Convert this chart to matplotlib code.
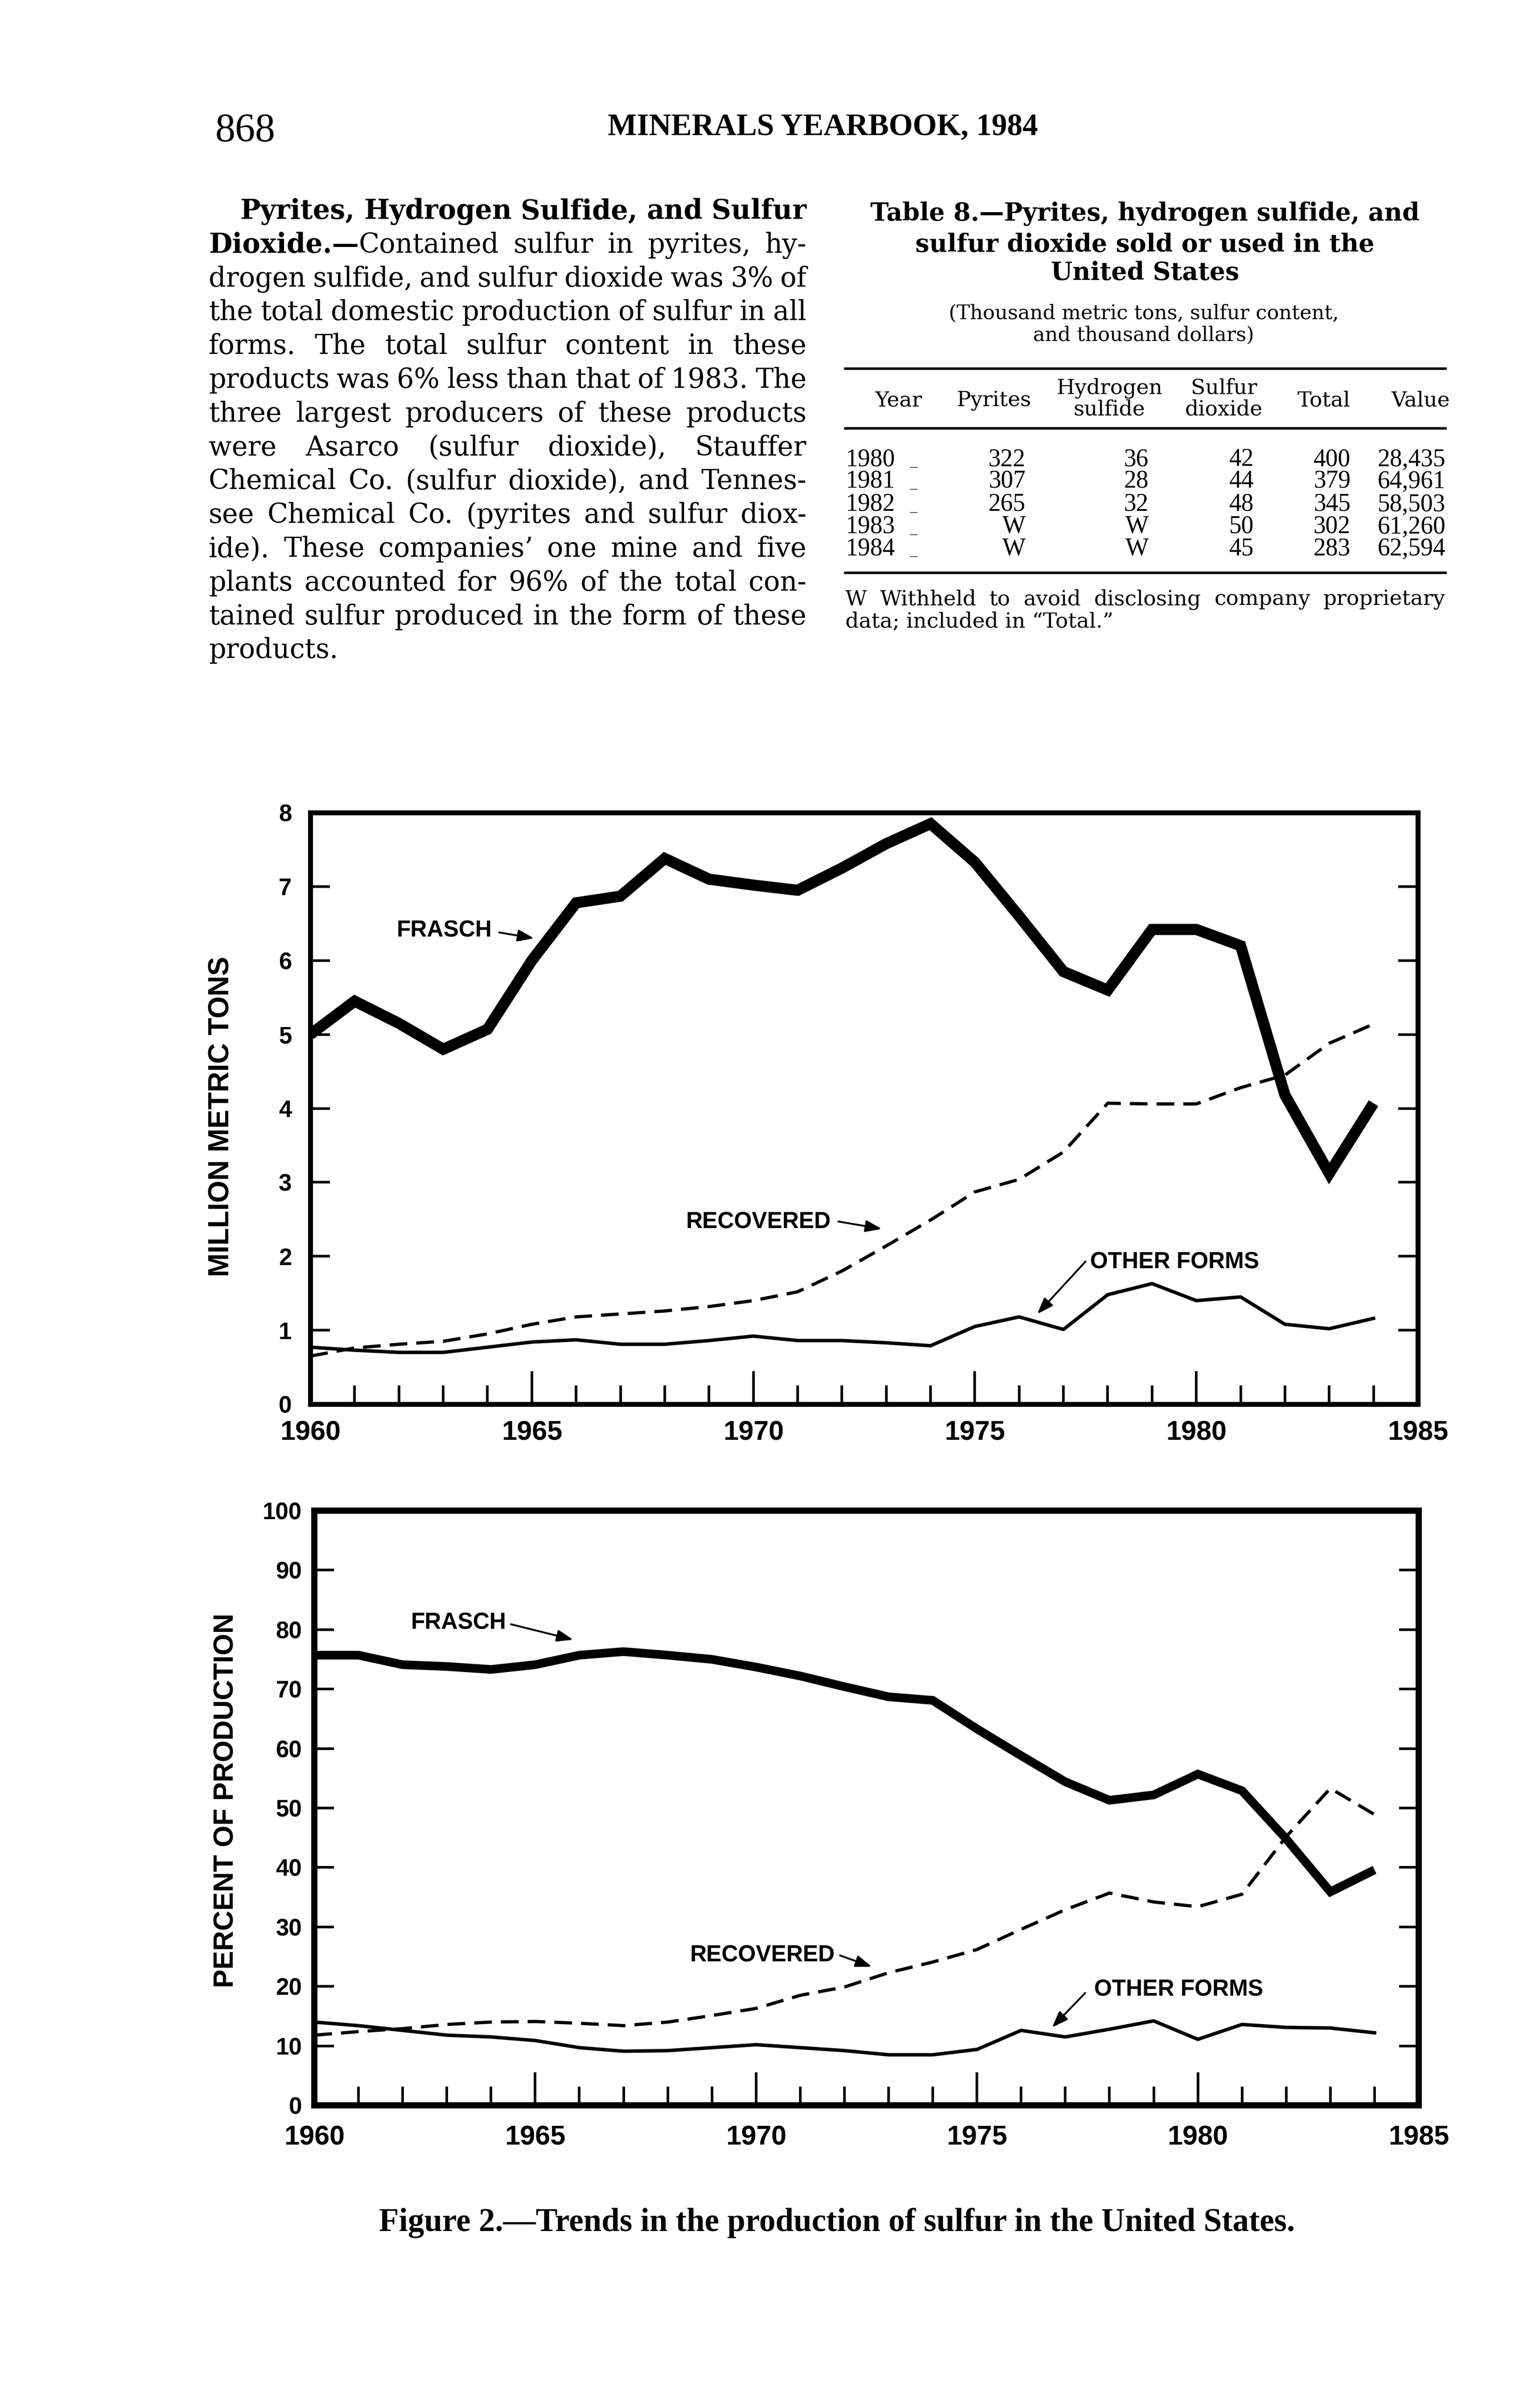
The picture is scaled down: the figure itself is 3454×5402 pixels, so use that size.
import matplotlib
matplotlib.use("Agg")
import matplotlib.pyplot as plt
from matplotlib.lines import Line2D

W, H, DPI = 3454, 5402, 100
SANS = "Liberation Sans"
SERIF = "DejaVu Serif"
NARROW = "Liberation Serif"

plt.rcParams["font.family"] = [SANS, "DejaVu Sans"]
plt.rcParams["font.weight"] = "bold"

# chart data
years = list(range(1960, 1985))
frasch_tons = [5.00, 5.45, 5.15, 4.80, 5.07, 6.00, 6.78, 6.87, 7.38, 7.10, 7.02, 6.95, 7.25,
               7.58, 7.85, 7.33, 6.60, 5.85, 5.60, 6.42, 6.42, 6.20, 4.18, 3.12, 4.07]
recovered_tons = [0.65, 0.76, 0.81, 0.85, 0.95, 1.08, 1.18, 1.22, 1.26, 1.32, 1.40, 1.52, 1.80,
                  2.14, 2.49, 2.87, 3.04, 3.41, 4.07, 4.06, 4.06, 4.28, 4.45, 4.88, 5.14]
other_tons = [0.77, 0.73, 0.70, 0.70, 0.77, 0.84, 0.87, 0.81, 0.81, 0.86, 0.92, 0.86, 0.86,
              0.83, 0.79, 1.05, 1.18, 1.01, 1.48, 1.63, 1.40, 1.45, 1.08, 1.02, 1.16]
frasch_pct = [75.7, 75.7, 74.1, 73.8, 73.3, 74.1, 75.7, 76.3, 75.7, 75.0, 73.7, 72.2, 70.4,
              68.7, 68.1, 63.3, 58.8, 54.4, 51.3, 52.2, 55.7, 52.9, 44.8, 35.9, 39.6]
recovered_pct = [11.8, 12.4, 12.9, 13.6, 14.0, 14.1, 13.8, 13.4, 14.0, 15.1, 16.3, 18.5, 19.9,
                 22.3, 24.1, 26.2, 29.6, 32.9, 35.7, 34.2, 33.4, 35.5, 45.2, 53.3, 48.9]
other_pct = [14.0, 13.4, 12.6, 11.8, 11.5, 10.9, 9.7, 9.1, 9.2, 9.7, 10.2, 9.7, 9.2,
             8.5, 8.5, 9.4, 12.6, 11.5, 12.8, 14.2, 11.1, 13.6, 13.1, 13.0, 12.2]

# table 8
table_years = ["1980", "1981", "1982", "1983", "1984"]
table_pyrites = ["322", "307", "265", "W", "W"]
table_h2s = ["36", "28", "32", "W", "W"]
table_so2 = ["42", "44", "48", "50", "45"]
table_total = ["400", "379", "345", "302", "283"]
table_value = ["28,435", "64,961", "58,503", "61,260", "62,594"]

body_lines = [
    "*Pyrites, *Hydrogen *Sulfide, *and *Sulfur",
    "*Dioxide.—|Contained sulfur in pyrites, hy-",
    "drogen sulfide, and sulfur dioxide was 3% of",
    "the total domestic production of sulfur in all",
    "forms. The total sulfur content in these",
    "products was 6% less than that of 1983. The",
    "three largest producers of these products",
    "were Asarco (sulfur dioxide), Stauffer",
    "Chemical Co. (sulfur dioxide), and Tennes-",
    "see Chemical Co. (pyrites and sulfur diox-",
    "ide). These companies’ one mine and five",
    "plants accounted for 96% of the total con-",
    "tained sulfur produced in the form of these",
    "products.",
]

fig = plt.figure(figsize=(W / DPI, H / DPI), dpi=DPI)
fig.patch.set_facecolor("white")
renderer = fig.canvas.get_renderer()


def fx(x):
    return x / W


def fy(y):
    return 1 - y / H


def text_width(s, family, weight, size):
    t = fig.text(0, 0, s, fontsize=size, family=family, weight=weight)
    w = t.get_window_extent(renderer).width
    t.remove()
    return w


def fit_size(s, family, weight, width):
    return 20 * width / text_width(s, family, weight, 20)


def word_parts(w):
    if w.startswith("*"):
        w = w[1:]
        if "|" in w:
            a, b = w.split("|")
            return [(a, "bold"), (b, "normal")]
        return [(w, "bold")]
    return [(w, "normal")]


def line_words_width(line, family, size):
    return sum(text_width(s, family, wt, size) for w in line.split() for s, wt in word_parts(w))


def put_justified(line, x0, x1, y, size, family=SERIF):
    # spread the words of one line evenly between x0 and x1
    items = []
    for w in line.split():
        parts = []
        for s, wt in word_parts(w):
            t = fig.text(0, fy(y), s, fontsize=size, family=family, weight=wt, va="baseline")
            parts.append((t, t.get_window_extent(renderer).width))
        items.append(parts)
    widths = [sum(p[1] for p in parts) for parts in items]
    gap = (x1 - x0 - sum(widths)) / max(len(items) - 1, 1)
    x = x0
    for parts, wd in zip(items, widths):
        xx = x
        for t, pw in parts:
            t.set_x(fx(xx))
            xx += pw
        x += wd + gap


# ---- page header ----
fig.text(fx(483), fy(317), "868", family=NARROW, weight="normal", va="baseline",
         fontsize=fit_size("868", NARROW, "normal", 134))
fig.text(fx(1845), fy(303), "MINERALS YEARBOOK, 1984", family=NARROW, weight="bold",
         ha="center", va="baseline",
         fontsize=fit_size("MINERALS YEARBOOK, 1984", NARROW, "bold", 963))

# ---- body paragraph: largest size where every line still keeps a small word gap ----
body_size = 60.0
for i, line in enumerate(body_lines[:-1]):
    x0 = 538 if i == 0 else 468
    n = len(line.split())
    w10 = line_words_width(line, SERIF, 10) / 10
    body_size = min(body_size, (1809 - x0) / (w10 + (n - 1) * 0.24 * DPI / 72))
for i, line in enumerate(body_lines):
    yb = 491 + i * 75.8
    if i == len(body_lines) - 1:
        fig.text(fx(468), fy(yb), line, family=SERIF, weight="normal", fontsize=body_size, va="baseline")
    else:
        put_justified(line, 538 if i == 0 else 468, 1809, yb, body_size)

# ---- table 8 ----
title = ["Table 8.—Pyrites, hydrogen sulfide, and", "sulfur dioxide sold or used in the", "United States"]
tsize = fit_size(title[0], SERIF, "bold", 1234)
for s, yb in zip(title, [495, 565, 628]):
    fig.text(fx(2568), fy(yb), s, family=SERIF, weight="bold", fontsize=tsize, ha="center", va="baseline")
sub = ["(Thousand metric tons, sulfur content,", "and thousand dollars)"]
ssize = fit_size(sub[0], SERIF, "normal", 874)
for s, yb in zip(sub, [716, 765]):
    fig.text(fx(2565), fy(yb), s, family=SERIF, weight="normal", fontsize=ssize, ha="center", va="baseline")

for yr in [827, 961, 1285]:
    fig.add_artist(Line2D([fx(1896), fx(3242)], [fy(yr), fy(yr)], color="black", lw=4))

hsize = 34
nsize = 40
headers = [("Year", 2015, [911]), ("Pyrites", 2229, [911]), ("Hydrogen|sulfide", 2488, [884, 932]),
           ("Sulfur|dioxide", 2745, [884, 932]), ("Total", 2969, [911]), ("Value", 3186, [911])]
for label, xc, ybs in headers:
    for s, yb in zip(label.split("|"), ybs):
        fig.text(fx(xc), fy(yb), s, family=SERIF, weight="normal", fontsize=hsize, ha="center", va="baseline")

row_y = [1045, 1094, 1146, 1196, 1245]
cols = [(table_pyrites, 2300), (table_h2s, 2576), (table_so2, 2812), (table_total, 3029), (table_value, 3242)]
for r, yb in enumerate(row_y):
    fig.text(fx(1896), fy(yb), table_years[r], family=NARROW, weight="normal", fontsize=nsize, va="baseline")
    fig.text(fx(2040), fy(yb), "_", family=NARROW, weight="normal", fontsize=24, va="baseline")
    for vals, xr in cols:
        fig.text(fx(xr), fy(yb), vals[r], family=NARROW, weight="normal", fontsize=nsize,
                 ha="right", va="baseline")

put_justified("W Withheld to avoid disclosing company proprietary", 1896, 3242, 1358, 34)
fig.text(fx(1896), fy(1407), "data; included in “Total.”", family=SERIF, weight="normal",
         fontsize=34, va="baseline")


# ---- charts ----
def arrow(ax, start, end):
    ax.annotate("", xy=end, xytext=start,
                arrowprops=dict(arrowstyle="-|>,head_length=0.55,head_width=0.2", color="black",
                                lw=3, shrinkA=0, shrinkB=0, mutation_scale=40))


def panel(box, fr, rec, oth, ymax, ystep, fr_lw, spine_lw, ypad, xpad, notes):
    left, top, right, bottom = box
    ax = fig.add_axes([fx(left), fy(bottom), (right - left) / W, (bottom - top) / H])
    ax.plot(years, fr, color="black", lw=fr_lw, solid_joinstyle="miter", solid_capstyle="butt")
    ax.plot(years, rec, color="black", lw=5.2, ls=(0, (5.5, 2.8)))
    ax.plot(years, oth, color="black", lw=5.6, solid_joinstyle="round")
    ax.set_xlim(1960, 1985)
    ax.set_ylim(0, ymax)
    for s in ax.spines.values():
        s.set_linewidth(spine_lw)
    ax.set_xticks(range(1960, 1986, 5))
    ax.set_xticks([y for y in range(1961, 1985) if y % 5], minor=True)
    ax.set_yticks(range(0, ymax + 1, ystep))
    ax.tick_params(axis="x", which="major", direction="in", length=53, width=4.2,
                   labelsize=44, pad=xpad)
    ax.tick_params(axis="x", which="minor", direction="in", length=30, width=4.2)
    ax.tick_params(axis="y", which="major", direction="in", length=32, width=4.2,
                   right=True, labelsize=38, pad=ypad)
    for (label, tx, ty, a0, a1) in notes:
        ax.text(tx, ty, label, fontsize=37, va="center", ha="left")
        arrow(ax, a0, a1)
    return ax


panel((696, 1823, 3180, 3150), frasch_tons, recovered_tons, other_tons, 8, 1, 18, 8, 30, 26,
      [("FRASCH", 1961.95, 6.40, (1964.26, 6.38), (1965.05, 6.30)),
       ("RECOVERED", 1968.48, 2.46, (1971.92, 2.47), (1972.9, 2.37)),
       ("OTHER FORMS", 1977.6, 1.92, (1977.5, 1.93), (1976.41, 1.22))])
fig.text(fx(497), fy(2505), "MILLION METRIC TONS", rotation=90, ha="center", va="center", fontsize=46)

panel((705, 3389, 3182, 4723), frasch_pct, recovered_pct, other_pct, 100, 10, 14, 10, 20, 32,
      [("FRASCH", 1962.19, 81.1, (1964.45, 80.9), (1965.86, 78.3)),
       ("RECOVERED", 1968.5, 25.2, (1971.9, 25.2), (1972.62, 23.3)),
       ("OTHER FORMS", 1977.65, 19.4, (1977.45, 18.9), (1976.7, 13.1))])
fig.text(fx(507), fy(4039), "PERCENT OF PRODUCTION", rotation=90, ha="center", va="center", fontsize=45)

cap = "Figure 2.—Trends in the production of sulfur in the United States."
fig.text(fx(1877), fy(5005), cap, family=NARROW, weight="bold", ha="center", va="baseline",
         fontsize=fit_size(cap, NARROW, "bold", 2056))

fig.savefig("out.png", dpi=DPI, facecolor="white")
